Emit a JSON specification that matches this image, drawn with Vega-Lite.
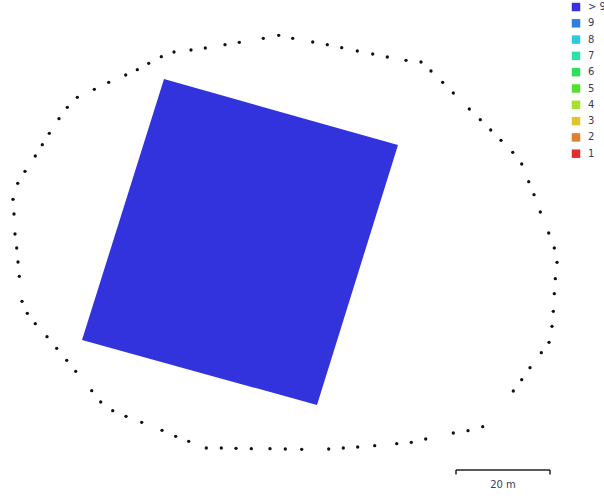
{
  "$schema": "https://vega.github.io/schema/vega-lite/v6.json",
  "width": 604,
  "height": 501,
  "autosize": {"type": "none"},
  "padding": 0,
  "background": "white",
  "config": {"view": {"stroke": null}},
  "datasets": {
    "field": [
      {"x": 82, "y": 340, "y2": 340, "class": "> 9"},
      {"x": 164, "y": 79, "y2": 362.7, "class": "> 9"},
      {"x": 317, "y": 122.2, "y2": 405, "class": "> 9"},
      {"x": 398, "y": 145, "y2": 145, "class": "> 9"}
    ],
    "camera": [
      {"x": 13, "y": 199.3}, {"x": 17.7, "y": 183.3}, {"x": 25, "y": 171.3}, {"x": 35.3, "y": 156}, {"x": 42.3, "y": 144.7},
      {"x": 49.3, "y": 133.3}, {"x": 59, "y": 118.7}, {"x": 67.3, "y": 107.3}, {"x": 77.3, "y": 97.3}, {"x": 94.3, "y": 89.3},
      {"x": 108.7, "y": 82.3}, {"x": 125.7, "y": 75}, {"x": 137.3, "y": 69.7}, {"x": 148.7, "y": 63.3}, {"x": 161.3, "y": 56.7},
      {"x": 174, "y": 52}, {"x": 191, "y": 50}, {"x": 205.3, "y": 48}, {"x": 225, "y": 44.7}, {"x": 239.3, "y": 42.3},
      {"x": 263.3, "y": 38.3}, {"x": 278.7, "y": 35.3}, {"x": 292.7, "y": 38.3}, {"x": 312.7, "y": 42}, {"x": 327.3, "y": 44.7},
      {"x": 341.7, "y": 47.7}, {"x": 357.3, "y": 51}, {"x": 372.7, "y": 54}, {"x": 387.3, "y": 57}, {"x": 406, "y": 60.3},
      {"x": 421, "y": 62}, {"x": 431, "y": 71}, {"x": 442.7, "y": 82.3}, {"x": 453.3, "y": 93}, {"x": 469.3, "y": 109},
      {"x": 480.3, "y": 119.7}, {"x": 490.7, "y": 130}, {"x": 501, "y": 140.3}, {"x": 512.7, "y": 152.3}, {"x": 521.7, "y": 164},
      {"x": 528.7, "y": 181.7}, {"x": 534, "y": 194.7}, {"x": 540.3, "y": 212}, {"x": 548.7, "y": 233}, {"x": 554.3, "y": 248},
      {"x": 557, "y": 262.3}, {"x": 555.3, "y": 278.7}, {"x": 554.3, "y": 293.7}, {"x": 553.3, "y": 311.3}, {"x": 552, "y": 326.3},
      {"x": 549, "y": 342.3}, {"x": 541.3, "y": 352.7}, {"x": 530, "y": 367.7}, {"x": 521.7, "y": 379.7}, {"x": 513.3, "y": 391},
      {"x": 482.7, "y": 426.7}, {"x": 468, "y": 430.7}, {"x": 453.3, "y": 433}, {"x": 425.7, "y": 439}, {"x": 411.3, "y": 442.3},
      {"x": 396.7, "y": 443.7}, {"x": 374.7, "y": 445.7}, {"x": 357.7, "y": 447}, {"x": 343.3, "y": 448}, {"x": 328.7, "y": 449},
      {"x": 301.7, "y": 449.3}, {"x": 285.3, "y": 449}, {"x": 270, "y": 448.7}, {"x": 251.3, "y": 448.7}, {"x": 236, "y": 448.3},
      {"x": 221.3, "y": 448}, {"x": 206.3, "y": 448}, {"x": 188.7, "y": 441.3}, {"x": 175.7, "y": 436.3}, {"x": 162, "y": 430.3},
      {"x": 141.7, "y": 422.3}, {"x": 126, "y": 416.3}, {"x": 112.7, "y": 410.7}, {"x": 100.7, "y": 402}, {"x": 91.7, "y": 390.7},
      {"x": 75.7, "y": 371.3}, {"x": 66.7, "y": 360.3}, {"x": 56.7, "y": 348.3}, {"x": 47, "y": 336.7}, {"x": 35.3, "y": 323.7},
      {"x": 27.3, "y": 313.3}, {"x": 22, "y": 301.3}, {"x": 19.3, "y": 276.3}, {"x": 18, "y": 262}, {"x": 16.7, "y": 248},
      {"x": 15, "y": 234}, {"x": 14, "y": 214}
    ],
    "scalebar": [
      {"x": 456, "x2": 550, "y": 470, "y2": 470, "label": "20 m", "xm": 503, "ym": 485}
    ],
    "scaleticks": [
      {"x": 456, "y": 470, "y2": 474.5},
      {"x": 550, "y": 470, "y2": 474.5}
    ]
  },
  "layer": [
    {
      "data": {"name": "field"},
      "mark": {"type": "area", "orient": "vertical", "interpolate": "linear"},
      "encoding": {
        "x": {"field": "x", "type": "quantitative", "scale": {"domain": [0, 604], "nice": false, "zero": false}, "axis": null},
        "y": {"field": "y", "type": "quantitative", "scale": {"domain": [0, 501], "nice": false, "zero": false, "reverse": true}, "axis": null},
        "y2": {"field": "y2"},
        "color": {
          "field": "class",
          "type": "nominal",
          "scale": {
            "domain": ["> 9", "9", "8", "7", "6", "5", "4", "3", "2", "1"],
            "range": ["#3333dd", "#2f7fe0", "#2ec8e0", "#2fe0a6", "#2fe05a", "#55e02f", "#a6e02f", "#e0c42f", "#e0802f", "#e02f2f"]
          },
          "legend": {
            "orient": "none",
            "legendX": 571,
            "legendY": 2,
            "title": null,
            "symbolType": "square",
            "symbolSize": 72,
            "symbolStrokeWidth": 0,
            "symbolOpacity": 1,
            "labelFontSize": 10,
            "labelColor": "#3a3a5a",
            "labelFont": "DejaVu Sans",
            "labelOffset": 7,
            "rowPadding": 6.3,
            "padding": 0
          }
        }
      }
    },
    {
      "data": {"name": "camera"},
      "mark": {"type": "point", "filled": true, "color": "#111111", "size": 11, "opacity": 1},
      "encoding": {
        "x": {"field": "x", "type": "quantitative"},
        "y": {"field": "y", "type": "quantitative"}
      }
    },
    {
      "data": {"name": "scalebar"},
      "mark": {"type": "rule", "color": "#222222", "strokeWidth": 1.5},
      "encoding": {
        "x": {"field": "x", "type": "quantitative"},
        "x2": {"field": "x2"},
        "y": {"field": "y", "type": "quantitative"}
      }
    },
    {
      "data": {"name": "scaleticks"},
      "mark": {"type": "rule", "color": "#222222", "strokeWidth": 1.5},
      "encoding": {
        "x": {"field": "x", "type": "quantitative"},
        "y": {"field": "y", "type": "quantitative"},
        "y2": {"field": "y2"}
      }
    },
    {
      "data": {"name": "scalebar"},
      "mark": {"type": "text", "fontSize": 10, "font": "DejaVu Sans", "color": "#3a3a5a", "align": "center", "baseline": "middle"},
      "encoding": {
        "x": {"field": "xm", "type": "quantitative"},
        "y": {"field": "ym", "type": "quantitative"},
        "text": {"field": "label"}
      }
    }
  ]
}
